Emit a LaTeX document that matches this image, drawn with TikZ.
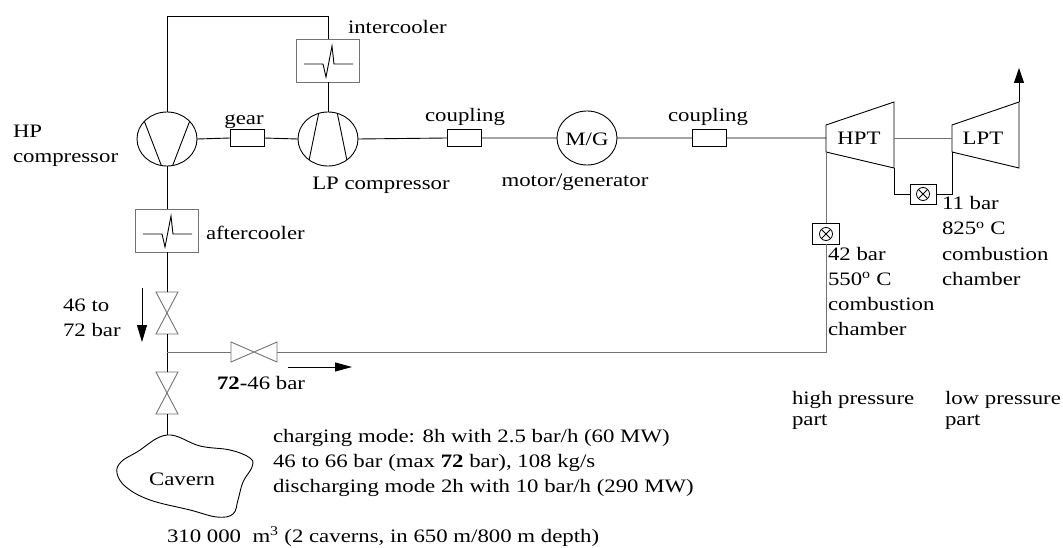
\documentclass[tikz,border=0pt]{standalone}
\usepackage{fontspec}
\setmainfont{Liberation Serif}[FakeStretch=1.2]
\usetikzlibrary{shapes.geometric,arrows.meta}

\begin{document}
\begin{tikzpicture}[x=1pt,y=-1pt,
  every node/.style={font=\fontsize{19}{25}\selectfont, inner sep=0pt, outer sep=0pt},
  line/.style={line width=0.9pt, black},
  pipe/.style={line width=0.9pt, black!55},
  machine/.style={draw, ellipse, line width=0.9pt, minimum width=60pt, minimum height=54pt},
  cooler/.style={draw=black!55, line width=0.9pt, minimum width=63pt, minimum height=43pt},
  clutch/.style={draw, line width=0.9pt, minimum width=34pt, minimum height=17pt},
  burner/.style={draw, line width=0.9pt, minimum width=27pt, minimum height=21pt},
  vvalve/.style={minimum width=22pt, minimum height=42pt},
  hvalve/.style={minimum width=46pt, minimum height=20pt},
  lbl/.style={anchor=base west},
  clbl/.style={anchor=base},
  flow/.style={line width=0.9pt, -{Triangle[length=17pt,width=10pt]}}
]
\useasboundingbox (0,0) rectangle (1063,548);
\fill[white] (0,0) rectangle (1063,548);

% compressors, motor/generator and shaft elements
\node[machine] (hpc) at (167,139) {};
\node[machine] (lpc) at (328,139) {};
\node[machine] (mg)  at (587,138) {};
\node[clutch] (gear) at (247,138) {};
\node[clutch] (cp1)  at (464,138) {};
\node[clutch] (cp2)  at (709,138) {};
\node[cooler] (ic) at (328,61) {};
\node[cooler] (ac) at (167,231) {};

% compressor blades
\draw[line] (hpc.142) -- (hpc.258) (hpc.38) -- (hpc.282);
\draw[line] (lpc.110) -- (lpc.228) (lpc.70) -- (lpc.312);

% heat exchanger symbols
\foreach \hx in {ic,ac}{
  \draw[line width=0.9pt]
    ([shift={(-24,3)}]\hx.center) -- ([shift={(-5,3)}]\hx.center)
    -- ([shift={(-2,16)}]\hx.center) -- ([shift={(4,-15)}]\hx.center)
    -- ([shift={(6,3)}]\hx.center) -- ([shift={(25,3)}]\hx.center);
}

% valves
\node[vvalve] (v1) at (167,313) {};
\node[vvalve] (v2) at (167,393) {};
\node[hvalve] (v3) at (254,352) {};
\foreach \v in {v1,v2}{
  \draw[pipe] (\v.north west) -- (\v.north east) -- (\v.south west) -- (\v.south east) -- cycle;
}
\draw[pipe] (v3.north west) -- (v3.south west) -- (v3.north east) -- (v3.south east) -- cycle;

% turbines
\coordinate (hptl)  at (826,138);
\coordinate (hptbl) at (826,152);
\coordinate (hptr)  at (894,138);
\coordinate (hptbr) at (894,168);
\coordinate (lptl)  at (952,138);
\coordinate (lptbl) at (952,152);
\coordinate (lpttr) at (1019,102);
\coordinate (exh)   at (1019,68);
\draw[line] (826,125) -- (894,102) -- (894,168) -- (826,152) -- cycle;
\draw[line] (952,125) -- (1019,102) -- (1019,168) -- (952,152) -- cycle;
\node[clbl] (hpt) at (859,145) {HPT};
\node[clbl] (lpt) at (983,145) {LPT};

% combustion chambers
\node[burner] (cc1) at (826,234) {};
\node[burner, minimum width=26pt, minimum height=20pt] (cc2) at (923,194) {};
\foreach \c in {cc1,cc2}{
  \draw[line width=0.8pt] (\c.center) circle (6.5pt);
  \draw[line width=0.8pt] ([shift={(-4.6,-4.6)}]\c.center) -- ([shift={(4.6,4.6)}]\c.center)
                          ([shift={(-4.6,4.6)}]\c.center) -- ([shift={(4.6,-4.6)}]\c.center);
}

% cavern
\coordinate (cavtop) at (167,435);
\draw[line] plot[smooth cycle, tension=0.65] coordinates {
  (167,435) (200,446) (230,450) (250,458) (252,467) (243,482) (238,500)
  (233,514) (217,517) (190,510) (150,500) (126,487) (117,473) (121,462) (137,452)};
\node[clbl] (cav) at (182,485) {Cavern};

% shaft line
\draw[line] (hpc.east) -- (gear.west) (gear.east) -- (lpc.west)
            (lpc.east) -- (cp1.west) (cp1.east) -- (mg.west)
            (mg.east) -- (cp2.west) (cp2.east) -- (hptl);

% air path of the compressor train
\draw[line] (hpc.north) |- (ic.north |- 0,16) -- (ic.north);
\draw[line] (ic.south) -- (lpc.north);
\draw[line] (hpc.south) -- (ac.north);
\draw[line] (ac.south) -- (v1.north);
\draw[line] (v1.south) -- (v2.north);
\draw[line] (v2.south) -- (cavtop);

% discharge line to the turbines
\coordinate (jn) at (167,352);
\coordinate (hpbot) at (826,352);
\draw[pipe] (jn) -- (v3.west);
\draw[pipe] (v3.east) -- (hpbot) -- (cc1.south);
\draw[pipe] (cc1.north) -- (hptbl);
\draw[pipe] (hptr) -- (lptl);
\draw[line] (hptbr) |- (cc2.west);
\draw[line] (cc2.east) -| (lptbl);
\draw[line, -{Triangle[length=15pt,width=10pt]}] (lpttr) -- (exh);

% flow arrows
\coordinate (fa1) at (142,288);
\coordinate (fa2) at (142,342);
\coordinate (fb1) at (288,367);
\coordinate (fb2) at (352,367);
\draw[flow] (fa1) -- (fa2);
\draw[flow, -{Triangle[length=17pt,width=9pt]}] (fb1) -- (fb2);

% labels
\node[lbl] (t-hp1) at (13,138) {HP};
\node[lbl] (t-hp2) at (13,163) {compressor};
\node[lbl] (t-ic) at (348,34) {intercooler};
\node[clbl] (t-gear) at (244,125) {gear};
\node[clbl] (t-lp) at (381,190) {LP compressor};
\node[clbl] (t-cp1) at (465,122) {coupling};
\node[clbl] (t-cp2) at (708,122) {coupling};
\node[clbl] (t-mg) at (587,146) {M/G};
\node[clbl] (t-mgl) at (575,187) {motor/generator};
\node[lbl] (t-ac) at (206,240) {aftercooler};
\node[lbl] (t-in1) at (63,311) {46 to};
\node[lbl] (t-in2) at (63,336) {72 bar};
\node[lbl] (t-out) at (217,389) {\textbf{72-}46 bar};

\node[lbl] (t-lb1) at (942,210) {11 bar};
\node[lbl] (t-lb2) at (942,235) {825\textsuperscript{o} C};
\node[lbl] (t-lb3) at (942,260) {combustion};
\node[lbl] (t-lb4) at (942,285) {chamber};
\node[lbl] (t-hb1) at (828,260) {42 bar};
\node[lbl] (t-hb2) at (828,285) {550\textsuperscript{o} C};
\node[lbl] (t-hb3) at (828,310) {combustion};
\node[lbl] (t-hb4) at (828,335) {chamber};

\node[lbl] (t-hpp1) at (792,404) {high pressure};
\node[lbl] (t-hpp2) at (792,425) {part};
\node[lbl] (t-lpp1) at (945,404) {low pressure};
\node[lbl] (t-lpp2) at (945,425) {part};

\node[lbl] (t-m1) at (273,442) {charging mode: 8h with 2.5 bar/h (60 MW)};
\node[lbl] (t-m2) at (273,467) {46 to 66 bar (max \textbf{72} bar), 108 kg/s};
\node[lbl] (t-m3) at (273,492) {discharging mode 2h with 10 bar/h (290 MW)};
\node[lbl] (t-vol) at (167,542) {310 000~~m\textsuperscript{3} (2 caverns, in 650 m/800 m depth)};
\end{tikzpicture}
\end{document}
